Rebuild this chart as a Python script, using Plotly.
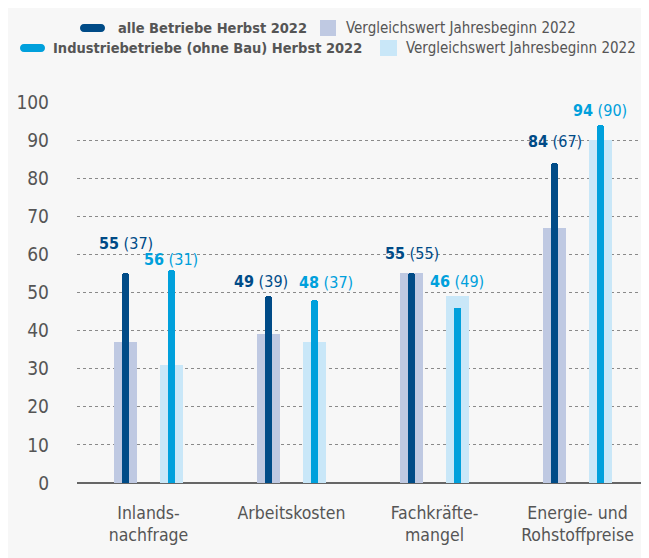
import plotly.graph_objects as go

# ---------------- data ----------------
categories = ["Inlands-<br>nachfrage", "Arbeitskosten", "Fachkräfte-<br>mangel", "Energie- und<br>Rohstoffpreise"]
alle_herbst = [55, 49, 55, 84]
alle_vergleich = [37, 39, 55, 67]
ind_herbst = [56, 48, 46, 94]
ind_vergleich = [31, 37, 49, 90]
y_ticks = [0, 10, 20, 30, 40, 50, 60, 70, 80, 90, 100]

name_alle = "alle Betriebe Herbst 2022"
name_ind = "Industriebetriebe (ohne Bau) Herbst 2022"
name_vgl = "Vergleichswert Jahresbeginn 2022"

# ---------------- style ----------------
DARK = "#004b87"
LIGHT = "#00a0dc"
DARK_BG = "#bfc9e2"
LIGHT_BG = "#c9e7f8"
TEXT = "#555555"
FONT = "DejaVu Sans Condensed, DejaVu Sans, sans-serif"

OFFSET = 0.16
WIDE = 0.16
NARROW = 0.054

# label placement tweaks (pixels)
dy_alle = [30, 15, 20, 21]
dy_ind = [10, 18, 26, 14]
dx_alle = [0, -8, 0, 0]
dx_ind = [0, 12, 0, 0]

idx = list(range(len(categories)))
x_alle = [i - OFFSET for i in idx]
x_ind = [i + OFFSET for i in idx]

fig = go.Figure()
fig.add_trace(go.Bar(x=x_alle, y=alle_vergleich, width=WIDE, name=name_vgl,
                     marker=dict(color=DARK_BG, line=dict(width=0)), hoverinfo="skip"))
fig.add_trace(go.Bar(x=x_ind, y=ind_vergleich, width=WIDE, name=name_vgl,
                     marker=dict(color=LIGHT_BG, line=dict(width=0)), hoverinfo="skip"))
fig.add_trace(go.Bar(x=x_alle, y=alle_herbst, width=NARROW, name=name_alle,
                     marker=dict(color=DARK, line=dict(width=0), cornerradius="50%")))
fig.add_trace(go.Bar(x=x_ind, y=ind_herbst, width=NARROW, name=name_ind,
                     marker=dict(color=LIGHT, line=dict(width=0), cornerradius="50%")))

annotations = []
for i in idx:
    annotations.append(dict(x=x_alle[i], y=alle_herbst[i], xref="x", yref="y",
                            text=f"<b>{alle_herbst[i]}</b> ({alle_vergleich[i]})",
                            showarrow=False, yanchor="middle", xanchor="center",
                            yshift=dy_alle[i], xshift=dx_alle[i],
                            font=dict(family=FONT, size=16, color=DARK)))
    annotations.append(dict(x=x_ind[i], y=ind_herbst[i], xref="x", yref="y",
                            text=f"<b>{ind_herbst[i]}</b> ({ind_vergleich[i]})",
                            showarrow=False, yanchor="middle", xanchor="center",
                            yshift=dy_ind[i], xshift=dx_ind[i],
                            font=dict(family=FONT, size=16, color=LIGHT)))

# page has an 8px body margin: figure is placed at (8, 8) in the window
OX = 8
W, H = 649 - OX, 558 - OX
L, T, B = 77 - OX, 102 - OX, 75
PW, PH = W - L, H - T - B


def px(xp):  # window pixel -> paper x
    return (xp - OX - L) / PW


def py(yp):  # window pixel -> paper y
    return (H - B - (yp - OX)) / PH


def pill(x0, x1, yc, h=8):
    r = h / 2
    k = r * 1.33
    a, b = px(x0 + r), px(x1 - r)
    top, bot = py(yc - r), py(yc + r)
    return (f"M {a},{top} L {b},{top} C {px(x1 - r + k)},{top} {px(x1 - r + k)},{bot} {b},{bot} "
            f"L {a},{bot} C {px(x0 + r - k)},{bot} {px(x0 + r - k)},{top} {a},{top} Z")


shapes = []
# legend (row 1: alle Betriebe, row 2: Industriebetriebe)
legend_rows = [
    dict(color=DARK, box=DARK_BG, name=name_alle, yc=28, pill=(80, 105), tx=116, bx=(320, 336), vx=344),
    dict(color=LIGHT, box=LIGHT_BG, name=name_ind, yc=48, pill=(20, 45), tx=51, bx=(380, 397), vx=404),
]
for row in legend_rows:
    shapes.append(dict(type="path", xref="paper", yref="paper", path=pill(*row["pill"], row["yc"]),
                       fillcolor=row["color"], line=dict(width=0)))
    shapes.append(dict(type="rect", xref="paper", yref="paper",
                       x0=px(row["bx"][0]), x1=px(row["bx"][1]),
                       y0=py(row["yc"] + 8), y1=py(row["yc"] - 8),
                       fillcolor=row["box"], line=dict(width=0)))
    annotations.append(dict(x=px(row["tx"]), y=py(row["yc"]), xref="paper", yref="paper",
                            text=f"<b>{row['name']}</b>", showarrow=False,
                            xanchor="left", yanchor="middle",
                            font=dict(family=FONT, size=14.5, color=TEXT)))
    annotations.append(dict(x=px(row["vx"]), y=py(row["yc"]), xref="paper", yref="paper",
                            text=name_vgl, showarrow=False,
                            xanchor="left", yanchor="middle",
                            font=dict(family=FONT, size=15, color=TEXT)))

fig.update_layout(
    width=W, height=H,
    margin=dict(l=L, r=0, t=T, b=B, pad=0, autoexpand=False),
    paper_bgcolor="#f7f7f7",
    plot_bgcolor="rgba(0,0,0,0)",
    barmode="overlay",
    bargap=0,
    showlegend=False,
    font=dict(family=FONT, color=TEXT, size=17),
    annotations=annotations,
    shapes=shapes,
    xaxis=dict(range=[-0.5, len(categories) - 0.5], tickmode="array",
               tickvals=idx, ticktext=categories, showgrid=False, zeroline=False,
               showline=False, ticks="", ticklabelstandoff=17, automargin=False,
               tickfont=dict(family=FONT, size=17.5, color=TEXT), fixedrange=True),
    yaxis=dict(range=[0, 100], tickmode="array", tickvals=y_ticks,
               showgrid=True, gridcolor="#8a8a8a", griddash="dot", gridwidth=1,
               zeroline=True, zerolinecolor="#666666", zerolinewidth=1.5,
               showline=False, ticks="", ticklabelstandoff=27, automargin=False,
               tickfont=dict(family=FONT, size=19, color=TEXT), fixedrange=True),
)

fig.write_html("out.html")
